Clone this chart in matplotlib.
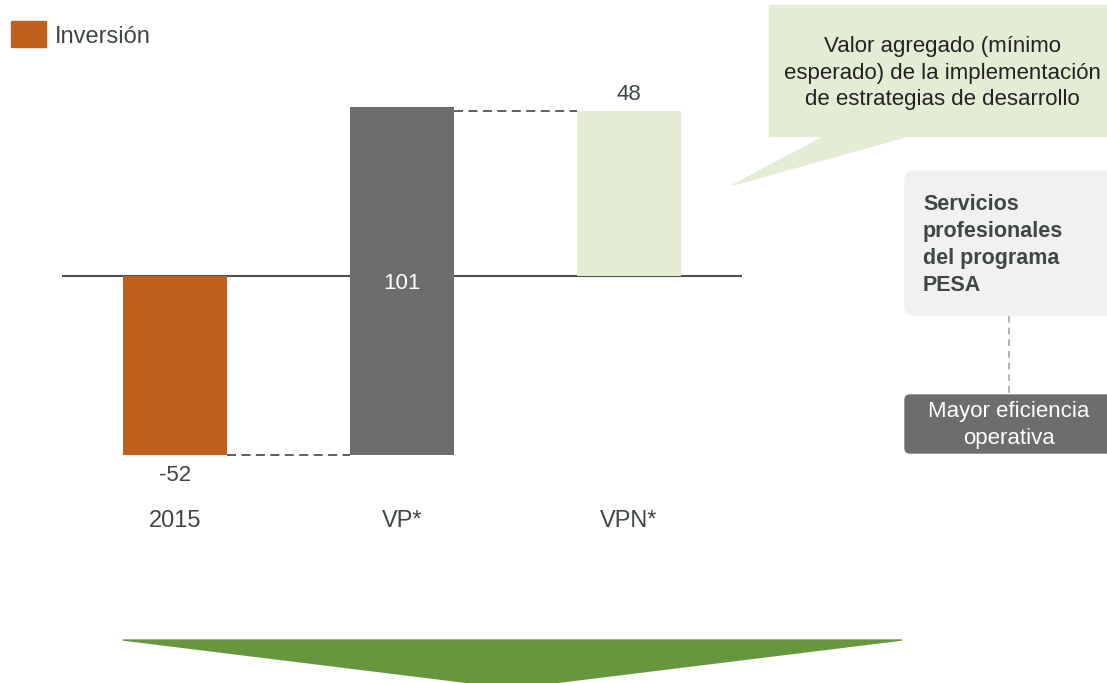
import matplotlib.pyplot as plt
from matplotlib.patches import Rectangle, Polygon, FancyBboxPatch

plt.rcParams['font.family'] = ['Liberation Sans', 'DejaVu Sans']

categories = ['2015', 'VP*', 'VPN*']
values = [-52, 101, 48]
value_labels = ['-52', '101', '48']
legend_label = 'Inversión'
callout_text = 'Valor agregado (mínimo\nesperado) de la implementación\nde estrategias de desarrollo'
box_text = 'Servicios\nprofesionales\ndel programa\nPESA'
dark_box_text = 'Mayor eficiencia\noperativa'

orange = '#C0601F'
grey = '#6D6D6D'
light_green = '#E4ECD5'
arrow_green = '#66973F'
text_col = '#3F4840'

# waterfall: 2015 from 0, VP starts at end of 2015, VPN from 0
bottoms = [0, values[0], 0]
tops = [b + v for b, v in zip(bottoms, values)]
colors = [orange, grey, light_green]

fig = plt.figure(figsize=(11.07, 6.83), dpi=100)

# chart axes (baseline at px 276, -52 at px 455)
ax = fig.add_axes([62 / 1107, 0, 680 / 1107, 1])
ax.set_xlim(-0.5, 2.5)
ax.set_ylim(-118.2, 80.2)
ax.axis('off')

ax.axhline(0, color='#4A524A', lw=1.5, zorder=1)
x = range(len(categories))
ax.bar(x, values, bottom=bottoms, width=0.46, color=colors, zorder=2)

# dashed connectors
w = 0.23
ax.plot([0 + w, 1 - w], [tops[0], tops[0]], ls=(0, (5, 3)), color='#505550', lw=1.3, zorder=3)
ax.plot([1 + w, 2 - w], [tops[2], tops[2]], ls=(0, (5, 3)), color='#505550', lw=1.3, zorder=3)

# value labels
ax.annotate(value_labels[0], (0, tops[0]), xytext=(0, -15), textcoords='offset points',
            ha='center', va='center', fontsize=16, color=text_col)
ax.annotate(value_labels[1], (1, 0), xytext=(0, -5), textcoords='offset points',
            ha='center', va='center', fontsize=16, color='white', zorder=4)
ax.annotate(value_labels[2], (2, tops[2]), xytext=(0, 11.5), textcoords='offset points',
            ha='center', va='center', fontsize=16, color=text_col)

for i, c in enumerate(categories):
    ax.text(i, -71, c, ha='center', va='center', fontsize=17, color=text_col)

# overlay in pixel coordinates
ov = fig.add_axes([0, 0, 1, 1], zorder=5)
ov.set_xlim(0, 1107)
ov.set_ylim(683, 0)
ov.axis('off')
ov.patch.set_alpha(0)

# legend
ov.add_patch(Rectangle((11, 21), 35, 26, color=orange))
ov.text(55, 37, legend_label, ha='left', va='center', fontsize=17, color=text_col)

# callout
ov.add_patch(Rectangle((769, 5), 345, 131, color=light_green))
ov.add_patch(Polygon([(827, 135), (912, 135), (733, 185)], closed=True, color=light_green))
ov.text(942, 73, callout_text, ha='center', va='center', fontsize=16,
        color='#222222', linespacing=1.32)

# grey box
ov.add_patch(FancyBboxPatch((905, 171), 215, 144, boxstyle='round,pad=0,rounding_size=9',
                            color='#F1F1F1'))
ov.text(923, 245, box_text, ha='left', va='center', fontsize=15.5, fontweight='bold',
        color=text_col, linespacing=1.38)

ov.plot([1009, 1009], [316, 395], ls=(0, (4, 3)), color='#A5A5A5', lw=1.2)

# dark box
ov.add_patch(FancyBboxPatch((905, 395), 215, 58, boxstyle='round,pad=0,rounding_size=5',
                            color=grey))
ov.text(1009, 425, dark_box_text, ha='center', va='center', fontsize=16,
        color='white', linespacing=1.4)

# arrow at bottom
ov.add_patch(Polygon([(123, 640), (902, 640), (512, 688)], closed=True, color=arrow_green))

fig.savefig('out.png', dpi=100)
